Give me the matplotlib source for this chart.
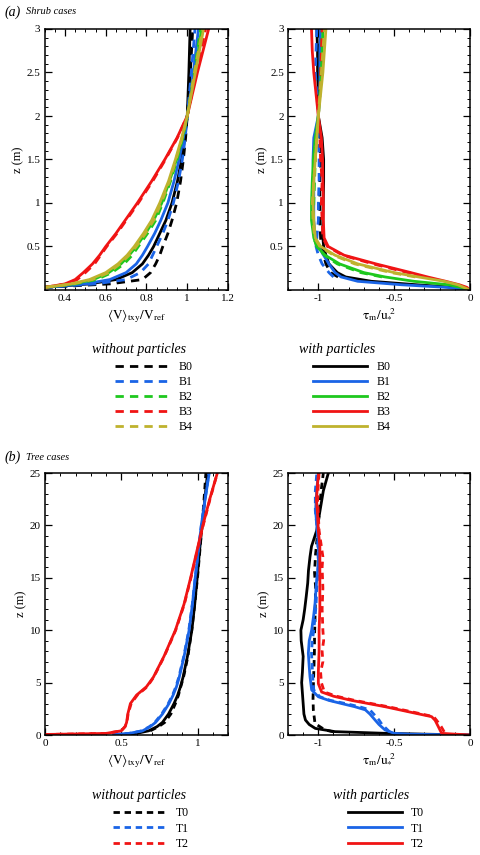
import matplotlib
matplotlib.use('Agg')
import matplotlib.pyplot as plt
from matplotlib.ticker import MultipleLocator

plt.rcParams['font.family'] = 'serif'
plt.rcParams['font.serif'] = ['Liberation Serif', 'DejaVu Serif']
plt.rcParams['mathtext.fontset'] = 'stix'

# ---------------- data ----------------
# shrub cases, mean velocity <V>/Vref vs z (m)
shrub_z = [0.03, 0.07, 0.12, 0.2, 0.3, 0.4, 0.5, 0.65, 0.8, 1.0, 1.25, 1.5, 1.75, 2.0, 2.5, 3.0]
shrub_v_B0 = [0.30, 0.52, 0.65, 0.73, 0.78, 0.81, 0.835, 0.865, 0.895, 0.925, 0.952, 0.972, 0.988, 1.0, 1.008, 1.014]
shrub_v_B1 = [0.30, 0.50, 0.62, 0.70, 0.75, 0.78, 0.805, 0.84, 0.87, 0.905, 0.935, 0.96, 0.981, 1.0, 1.03, 1.055]
shrub_v_B2 = [0.30, 0.44, 0.54, 0.615, 0.675, 0.715, 0.75, 0.795, 0.835, 0.875, 0.913, 0.947, 0.976, 1.0, 1.04, 1.07]
shrub_v_B3 = [0.30, 0.40, 0.45, 0.49, 0.535, 0.57, 0.60, 0.65, 0.695, 0.755, 0.825, 0.89, 0.95, 1.0, 1.05, 1.105]
shrub_v_B4 = [0.30, 0.43, 0.52, 0.60, 0.66, 0.705, 0.74, 0.785, 0.825, 0.865, 0.908, 0.942, 0.973, 1.0, 1.04, 1.08]
shrub_v_B0_np = [0.30, 0.62, 0.78, 0.82, 0.845, 0.865, 0.88, 0.905, 0.925, 0.948, 0.967, 0.981, 0.992, 1.0, 1.015, 1.027]
shrub_v_B1_np = [0.30, 0.55, 0.70, 0.77, 0.81, 0.83, 0.85, 0.88, 0.905, 0.932, 0.957, 0.976, 0.99, 1.0, 1.02, 1.038]
shrub_v_B2_np = [0.30, 0.45, 0.555, 0.63, 0.69, 0.73, 0.76, 0.805, 0.845, 0.88, 0.918, 0.95, 0.978, 1.0, 1.035, 1.065]
shrub_v_B3_np = [0.30, 0.41, 0.46, 0.50, 0.545, 0.575, 0.605, 0.655, 0.70, 0.76, 0.83, 0.893, 0.952, 1.0, 1.045, 1.09]
shrub_v_B4_np = [0.30, 0.44, 0.535, 0.615, 0.67, 0.715, 0.75, 0.795, 0.835, 0.872, 0.913, 0.945, 0.975, 1.0, 1.035, 1.075]

# shrub cases, momentum flux tau_m/u*^2 vs z (m)
shrub_tz = [0.0, 0.03, 0.06, 0.1, 0.15, 0.2, 0.3, 0.4, 0.5, 0.6, 0.8, 1.0, 1.25, 1.5, 1.75, 2.0, 2.25, 2.5, 2.75, 3.0]
shrub_t_B0 = [0.0, -0.10, -0.35, -0.65, -0.82, -0.875, -0.93, -0.95, -0.965, -0.97, -0.97, -0.968, -0.965, -0.965, -0.975, -1.0, -1.0, -1.005, -1.005, -1.01]
shrub_t_B1 = [0.0, -0.15, -0.45, -0.74, -0.85, -0.89, -0.93, -0.965, -1.0, -1.02, -1.03, -1.03, -1.03, -1.035, -1.03, -1.0, -0.99, -0.99, -0.99, -0.985]
shrub_t_B2 = [0.0, -0.06, -0.14, -0.37, -0.56, -0.70, -0.86, -0.955, -1.01, -1.03, -1.045, -1.045, -1.04, -1.033, -1.02, -1.0, -0.99, -0.98, -0.975, -0.97]
shrub_t_B3 = [0.0, -0.02, -0.07, -0.16, -0.28, -0.39, -0.62, -0.83, -0.935, -0.962, -0.967, -0.967, -0.97, -0.972, -0.98, -1.0, -1.015, -1.03, -1.04, -1.045]
shrub_t_B4 = [0.0, -0.04, -0.08, -0.17, -0.34, -0.50, -0.74, -0.89, -0.985, -1.02, -1.03, -1.035, -1.03, -1.02, -1.01, -1.0, -0.985, -0.97, -0.96, -0.95]
shrub_tz_np = [0.15, 0.2, 0.3, 0.4, 0.5, 0.6, 0.8, 1.0, 1.25, 1.5, 1.75, 2.0, 2.25, 2.5, 2.75, 3.0]
shrub_t_B0_np = [-0.87, -0.92, -0.95, -0.965, -0.98, -0.985, -0.99, -0.99, -0.99, -0.985, -0.99, -1.0, -1.0, -1.0, -1.0, -1.0]
shrub_t_B1_np = [-0.90, -0.93, -0.975, -1.0, -1.015, -1.01, -1.0, -1.0, -0.995, -0.995, -1.0, -1.0, -1.01, -1.02, -1.015, -1.01]
shrub_t_B2_np = [-0.58, -0.72, -0.875, -0.96, -1.01, -1.03, -1.035, -1.03, -1.025, -1.02, -1.015, -1.0, -0.99, -0.985, -0.98, -0.975]
shrub_t_B3_np = [-0.30, -0.41, -0.64, -0.84, -0.94, -0.97, -0.975, -0.98, -0.975, -0.985, -0.99, -1.0, -0.99, -0.985, -0.98, -0.975]
shrub_t_B4_np = [-0.36, -0.52, -0.76, -0.90, -0.99, -1.025, -1.035, -1.04, -1.03, -1.02, -1.01, -1.0, -0.99, -0.98, -0.97, -0.96]

# tree cases, mean velocity
tree_z = [0.05, 0.15, 0.4, 0.8, 1.2, 2.0, 3.0, 3.8, 4.6, 5.5, 7.5, 10, 12.5, 15, 17.5, 20, 22.5, 25]
tree_v_T0 = [0.50, 0.60, 0.68, 0.735, 0.77, 0.81, 0.846, 0.87, 0.888, 0.905, 0.934, 0.963, 0.982, 0.998, 1.013, 1.03, 1.048, 1.066]
tree_v_T1 = [0.45, 0.55, 0.64, 0.69, 0.725, 0.77, 0.813, 0.84, 0.862, 0.88, 0.912, 0.945, 0.967, 0.985, 1.005, 1.025, 1.05, 1.077]
tree_v_T2 = [0.0, 0.40, 0.50, 0.525, 0.535, 0.543, 0.56, 0.60, 0.665, 0.71, 0.78, 0.855, 0.912, 0.955, 0.995, 1.035, 1.08, 1.13]
tree_v_T1_np = [0.45, 0.55, 0.635, 0.685, 0.72, 0.765, 0.808, 0.836, 0.858, 0.877, 0.91, 0.943, 0.966, 0.985, 1.005, 1.025, 1.05, 1.075]
tree_v_T2_np = [0.0, 0.40, 0.50, 0.525, 0.537, 0.545, 0.565, 0.605, 0.67, 0.712, 0.782, 0.857, 0.914, 0.957, 0.997, 1.037, 1.082, 1.13]
tree_z_T0_np = [0.4, 0.8, 1.2, 2.0, 3.0, 3.8, 4.6, 5.5, 7.5, 10, 12.5, 15, 17.5, 20, 22.5, 25]
tree_v_T0_np = [0.69, 0.745, 0.785, 0.825, 0.855, 0.875, 0.89, 0.908, 0.937, 0.962, 0.982, 1.0, 1.015, 1.03, 1.043, 1.055]

# tree cases, momentum flux
tree_tz_T0 = [0, 0.08, 0.16, 0.32, 0.63, 1.0, 1.43, 2.0, 3.0, 4.0, 5.0, 6.0, 7.5, 9.0, 10.0, 11.0, 12.0, 13.2, 14.5, 15.7, 17.0, 18.0, 19.5, 21.4, 23.3, 25.0]
tree_t_T0 = [0.0, -0.30, -0.56, -0.89, -1.02, -1.06, -1.085, -1.095, -1.10, -1.105, -1.11, -1.105, -1.10, -1.113, -1.115, -1.10, -1.09, -1.08, -1.07, -1.065, -1.055, -1.045, -1.011, -0.989, -0.967, -0.934]
tree_tz_T0_np = [0.3, 0.48, 1.1, 2.4, 3.5, 4.6, 6, 7.8, 9.5, 10.95, 12.5, 14.1, 15.5, 17.3, 18.5, 19.5, 21, 22.1, 23.5, 25]
tree_t_T0_np = [-0.90, -0.956, -1.022, -1.033, -1.035, -1.033, -1.03, -1.026, -1.025, -1.022, -1.02, -1.018, -1.025, -1.018, -1.01, -1.004, -0.995, -0.989, -0.98, -0.967]
tree_tz_T1 = [0, 0.08, 0.16, 0.48, 1.0, 1.43, 2.0, 2.4, 2.7, 3.0, 3.3, 3.65, 4.3, 5.0, 5.56, 6.5, 7.8, 9, 10, 11.5, 12.5, 14, 14.8, 16.3, 17.5, 18.9, 20, 21.4, 23.3, 25]
tree_t_T1 = [0.0, -0.40, -0.50, -0.56, -0.60, -0.626, -0.66, -0.69, -0.76, -0.846, -0.93, -1.0, -1.044, -1.05, -1.055, -1.06, -1.066, -1.06, -1.044, -1.03, -1.022, -1.015, -1.011, -1.0, -0.998, -1.004, -1.01, -1.018, -1.011, -1.0]
tree_tz_T1_np = [0.3, 1.0, 1.43, 2.0, 2.4, 2.7, 3.0, 3.3, 3.65, 4.3, 5.0, 6.5, 7.8, 9, 10, 11.5, 12.5, 14, 16.3, 18.9, 20, 21.4, 23.3, 25]
tree_t_T1_np = [-0.53, -0.58, -0.60, -0.635, -0.66, -0.73, -0.82, -0.92, -0.99, -1.03, -1.035, -1.04, -1.045, -1.04, -1.03, -1.02, -1.015, -1.01, -1.0, -1.005, -1.01, -1.02, -1.02, -1.01]
tree_tz_T2 = [0, 0.1, 0.16, 0.8, 1.4, 1.75, 2.2, 2.7, 3.3, 3.7, 4.1, 4.9, 6, 8, 10, 12, 14, 16, 18, 19.5, 21, 22.5, 24, 25]
tree_t_T2 = [0.0, -0.12, -0.187, -0.209, -0.23, -0.253, -0.40, -0.56, -0.78, -0.90, -0.978, -1.0, -1.0, -0.995, -0.995, -0.99, -0.99, -0.99, -0.99, -1.0, -1.005, -1.012, -1.005, -0.998]
tree_tz_T2_np = [0.3, 0.8, 1.4, 1.75, 2.2, 2.7, 3.3, 3.7, 4.1, 5, 6, 7, 8, 9, 10, 12, 14, 16, 17, 18, 19.5, 21, 22.5, 24, 25]
tree_t_T2_np = [-0.17, -0.19, -0.22, -0.24, -0.38, -0.54, -0.76, -0.88, -0.96, -0.98, -0.985, -0.97, -0.975, -0.965, -0.97, -0.975, -0.97, -0.975, -0.97, -0.98, -0.995, -1.0, -1.005, -1.0, -0.995]

shrub_names = ['B0', 'B1', 'B2', 'B3', 'B4']
tree_names = ['T0', 'T1', 'T2']
colors = ['#000000', '#1a64e6', '#1ec81e', '#f01414', '#bfb22e']

LW = 2.0
DASH_S = (0, (3.0, 2.2))
DASH_T = (0, (2.3, 1.7))

W, H = 480, 855
fig = plt.figure(figsize=(W / 100, H / 100), dpi=100)


def fr(x0, y0, x1, y1):
    # pixel box (top-left origin) -> figure fraction rect
    return [x0 / W, 1 - y1 / H, (x1 - x0) / W, (y1 - y0) / H]


ax1 = fig.add_axes(fr(44.6, 29, 228, 290))
ax2 = fig.add_axes(fr(288, 29, 470, 290))
ax3 = fig.add_axes(fr(45, 473, 228, 735))
ax4 = fig.add_axes(fr(288, 473, 470, 735))

shrub_v = [shrub_v_B0, shrub_v_B1, shrub_v_B2, shrub_v_B3, shrub_v_B4]
shrub_v_np = [shrub_v_B0_np, shrub_v_B1_np, shrub_v_B2_np, shrub_v_B3_np, shrub_v_B4_np]
shrub_t = [shrub_t_B0, shrub_t_B1, shrub_t_B2, shrub_t_B3, shrub_t_B4]
shrub_t_np = [shrub_t_B0_np, shrub_t_B1_np, shrub_t_B2_np, shrub_t_B3_np, shrub_t_B4_np]

h_np, h_wp = [], []
for i in range(5):
    l1, = ax1.plot(shrub_v_np[i], shrub_z, color=colors[i], lw=LW, ls=DASH_S)
    l2, = ax1.plot(shrub_v[i], shrub_z, color=colors[i], lw=LW)
    h_np.append(l1)
    h_wp.append(l2)
    ax2.plot(shrub_t_np[i], shrub_tz_np, color=colors[i], lw=LW, ls=DASH_S)
    ax2.plot(shrub_t[i], shrub_tz, color=colors[i], lw=LW)

tree_cols = [colors[0], colors[1], colors[3]]
tv_np = [(tree_v_T0_np, tree_z_T0_np), (tree_v_T1_np, tree_z), (tree_v_T2_np, tree_z)]
tv = [tree_v_T0, tree_v_T1, tree_v_T2]
tt_np = [(tree_t_T0_np, tree_tz_T0_np), (tree_t_T1_np, tree_tz_T1_np), (tree_t_T2_np, tree_tz_T2_np)]
tt = [(tree_t_T0, tree_tz_T0), (tree_t_T1, tree_tz_T1), (tree_t_T2, tree_tz_T2)]
ht_np, ht_wp = [], []
for i in range(3):
    l1, = ax3.plot(tv_np[i][0], tv_np[i][1], color=tree_cols[i], lw=LW, ls=DASH_T)
    l2, = ax3.plot(tv[i], tree_z, color=tree_cols[i], lw=LW)
    ht_np.append(l1)
    ht_wp.append(l2)
    ax4.plot(tt_np[i][0], tt_np[i][1], color=tree_cols[i], lw=LW, ls=DASH_T)
    ax4.plot(tt[i][0], tt[i][1], color=tree_cols[i], lw=LW)

vlab = r'$\langle\mathrm{V}\rangle_{\mathrm{txy}}/\mathrm{V}_{\mathrm{ref}}$'
tlab = r'$\mathrm{\tau}_{\mathrm{m}}/\mathrm{u}_{*}^{\ 2}$'

for ax in (ax1, ax2, ax3, ax4):
    ax.tick_params(which='both', direction='in', top=True, right=True, labelsize=8, pad=3)
    ax.tick_params(which='major', length=5, width=0.9)
    ax.tick_params(which='minor', length=2.5, width=0.7)
    for s in ax.spines.values():
        s.set_linewidth(1.1)
    ax.set_ylabel('z (m)', fontsize=9, labelpad=1.5)

ax1.set_xlim(0.3, 1.2)
ax1.set_ylim(0, 3)
ax1.set_xticks([0.4, 0.6, 0.8, 1.0, 1.2])
ax1.set_xticklabels(['0.4', '0.6', '0.8', '1', '1.2'])
ax1.xaxis.set_minor_locator(MultipleLocator(0.05))
ax1.set_yticks([0.5, 1, 1.5, 2, 2.5, 3])
ax1.set_yticklabels(['0.5', '1', '1.5', '2', '2.5', '3'])
ax1.yaxis.set_minor_locator(MultipleLocator(0.1))
ax1.set_xlabel(vlab, fontsize=9.5, labelpad=3)

ax2.set_xlim(-1.2, 0)
ax2.set_ylim(0, 3)
ax2.set_xticks([-1, -0.5, 0])
ax2.set_xticklabels(['-1', '-0.5', '0'])
ax2.xaxis.set_minor_locator(MultipleLocator(0.1))
ax2.set_yticks([0.5, 1, 1.5, 2, 2.5, 3])
ax2.set_yticklabels(['0.5', '1', '1.5', '2', '2.5', '3'])
ax2.yaxis.set_minor_locator(MultipleLocator(0.1))
ax2.set_xlabel(tlab, fontsize=9.5, labelpad=3)

ax3.set_xlim(0, 1.2)
ax3.set_ylim(0, 25)
ax3.set_xticks([0, 0.5, 1])
ax3.set_xticklabels(['0', '0.5', '1'])
ax3.xaxis.set_minor_locator(MultipleLocator(0.1))
ax3.yaxis.set_major_locator(MultipleLocator(5))
ax3.yaxis.set_minor_locator(MultipleLocator(1))
ax3.set_xlabel(vlab, fontsize=9.5, labelpad=3)

ax4.set_xlim(-1.2, 0)
ax4.set_ylim(0, 25)
ax4.set_xticks([-1, -0.5, 0])
ax4.set_xticklabels(['-1', '-0.5', '0'])
ax4.xaxis.set_minor_locator(MultipleLocator(0.1))
ax4.yaxis.set_major_locator(MultipleLocator(5))
ax4.yaxis.set_minor_locator(MultipleLocator(1))
ax4.set_xlabel(tlab, fontsize=9.5, labelpad=3)

# panel labels
fig.text(5 / W, 1 - 12 / H, '(a)', fontsize=10, style='italic', va='center')
fig.text(26 / W, 1 - 12 / H, 'Shrub cases', fontsize=7.5, style='italic', va='center')
fig.text(5 / W, 1 - 457 / H, '(b)', fontsize=10, style='italic', va='center')
fig.text(26 / W, 1 - 457 / H, 'Tree cases', fontsize=7.5, style='italic', va='center')


def leg(handles, labels, x, y, sp):
    fig.legend(handles, labels, loc='upper left', bbox_to_anchor=(x / W, 1 - y / H),
               frameon=False, fontsize=8.5, handlelength=4.6, handletextpad=0.75,
               labelspacing=sp, borderpad=0, borderaxespad=0)


fig.text(92 / W, 1 - 350 / H, 'without particles', fontsize=10, style='italic', va='center')
fig.text(299 / W, 1 - 350 / H, 'with particles', fontsize=10, style='italic', va='center')
leg(h_np, shrub_names, 115, 361, 0.25)
leg(h_wp, shrub_names, 313, 361, 0.25)

fig.text(92 / W, 1 - 795 / H, 'without particles', fontsize=10, style='italic', va='center')
fig.text(333 / W, 1 - 795 / H, 'with particles', fontsize=10, style='italic', va='center')
leg(ht_np, tree_names, 113, 807, 0.3)
leg(ht_wp, tree_names, 348, 807, 0.3)

fig.savefig('out.png', dpi=100)
